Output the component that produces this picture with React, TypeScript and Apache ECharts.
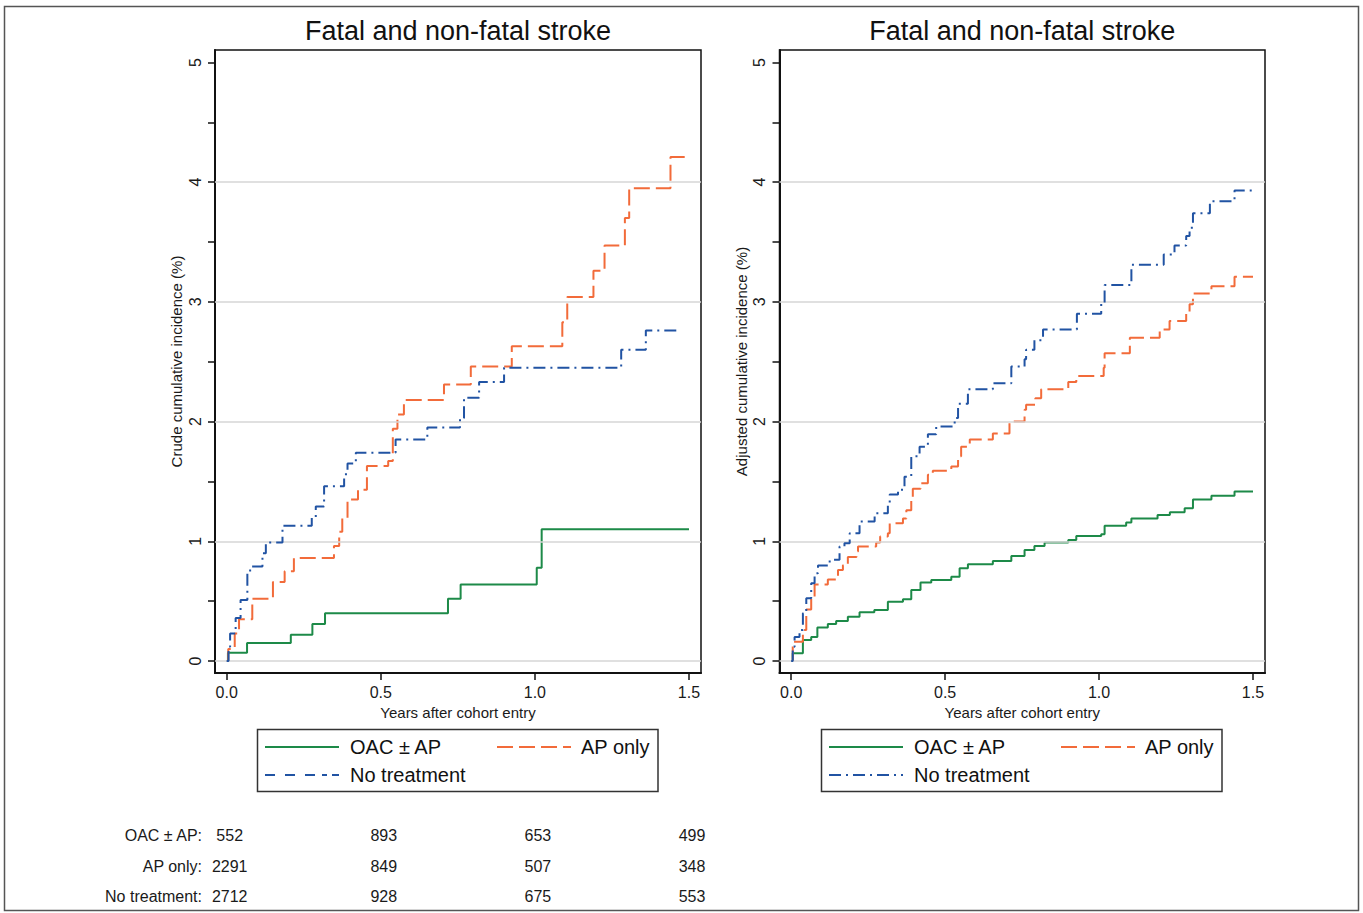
import React, { useEffect, useRef } from "react";
import * as echarts from "echarts";

// ---------- data ----------
const panelTitles = ["Fatal and non-fatal stroke", "Fatal and non-fatal stroke"];
const yAxisNames = ["Crude cumulative incidence (%)", "Adjusted cumulative incidence (%)"];
const xAxisName = "Years after cohort entry";
const seriesNames = ["OAC ± AP", "AP only", "No treatment"];
const xTickValues = [0, 0.5, 1.0, 1.5];
const yTickValues = [0, 0.5, 1, 1.5, 2, 2.5, 3, 3.5, 4, 4.5, 5];
const yLabelValues = [0, 1, 2, 3, 4, 5];
const gridLineValues = [0, 1, 2, 3, 4];

// Crude (left panel)
const oacCrudeT = [0, 0.004, 0.066, 0.208, 0.278, 0.319, 0.718, 0.759, 1.006, 1.022, 1.5];
const oacCrudeV = [0, 0.07, 0.15, 0.22, 0.31, 0.4, 0.52, 0.64, 0.78, 1.1, 1.1];

const apCrudeT = [0, 0.005, 0.026, 0.04, 0.083, 0.15, 0.188, 0.218, 0.348, 0.365, 0.375, 0.392, 0.426, 0.455, 0.524, 0.539, 0.554, 0.575, 0.705, 0.792, 0.925, 1.089, 1.105, 1.19, 1.226, 1.292, 1.306, 1.44, 1.5];
const apCrudeV = [0, 0.1, 0.23, 0.35, 0.52, 0.66, 0.75, 0.86, 0.96, 1.08, 1.19, 1.35, 1.43, 1.63, 1.67, 1.94, 2.06, 2.18, 2.31, 2.46, 2.63, 2.83, 3.04, 3.26, 3.47, 3.7, 3.95, 4.21, 4.21];

const noneCrudeT = [0, 0.006, 0.011, 0.029, 0.045, 0.067, 0.076, 0.116, 0.127, 0.181, 0.276, 0.289, 0.316, 0.381, 0.392, 0.419, 0.548, 0.651, 0.757, 0.77, 0.819, 0.9, 1.28, 1.36, 1.47];
const noneCrudeV = [0, 0.12, 0.23, 0.36, 0.51, 0.73, 0.79, 0.9, 0.99, 1.13, 1.2, 1.29, 1.46, 1.56, 1.65, 1.74, 1.85, 1.95, 2.03, 2.2, 2.33, 2.45, 2.6, 2.76, 2.76];

// Adjusted (right panel)
const oacAdjT = [0, 0.005, 0.038, 0.065, 0.085, 0.119, 0.146, 0.184, 0.222, 0.27, 0.314, 0.363, 0.39, 0.42, 0.455, 0.52, 0.547, 0.574, 0.655, 0.715, 0.758, 0.79, 0.823, 0.9, 0.926, 1.007, 1.018, 1.088, 1.105, 1.19, 1.23, 1.278, 1.305, 1.365, 1.44, 1.5];
const oacAdjV = [0, 0.064, 0.176, 0.2, 0.28, 0.31, 0.334, 0.37, 0.407, 0.426, 0.496, 0.516, 0.594, 0.655, 0.677, 0.705, 0.775, 0.808, 0.836, 0.878, 0.928, 0.96, 0.99, 1.01, 1.045, 1.06, 1.13, 1.157, 1.19, 1.22, 1.243, 1.276, 1.35, 1.38, 1.416, 1.416];

const apAdjT = [0, 0.005, 0.038, 0.049, 0.065, 0.076, 0.119, 0.152, 0.168, 0.184, 0.212, 0.217, 0.276, 0.289, 0.314, 0.32, 0.363, 0.374, 0.39, 0.395, 0.42, 0.444, 0.46, 0.52, 0.542, 0.552, 0.58, 0.655, 0.709, 0.758, 0.763, 0.793, 0.812, 0.9, 0.926, 1.015, 1.018, 1.1, 1.197, 1.229, 1.283, 1.294, 1.305, 1.365, 1.44, 1.5];
const apAdjV = [0, 0.16, 0.26, 0.43, 0.52, 0.64, 0.68, 0.76, 0.8, 0.87, 0.914, 0.956, 0.99, 1.04, 1.067, 1.15, 1.19, 1.26, 1.346, 1.44, 1.486, 1.555, 1.59, 1.625, 1.71, 1.79, 1.85, 1.9, 2.0, 2.1, 2.14, 2.196, 2.27, 2.33, 2.38, 2.45, 2.57, 2.7, 2.77, 2.84, 2.9, 2.98, 3.07, 3.13, 3.21, 3.21];

const noneAdjT = [0, 0.005, 0.011, 0.027, 0.038, 0.049, 0.065, 0.076, 0.087, 0.125, 0.157, 0.173, 0.19, 0.222, 0.271, 0.314, 0.32, 0.347, 0.368, 0.39, 0.417, 0.444, 0.471, 0.531, 0.542, 0.574, 0.655, 0.715, 0.758, 0.763, 0.79, 0.818, 0.928, 1.007, 1.018, 1.105, 1.21, 1.245, 1.283, 1.294, 1.305, 1.36, 1.44, 1.5];
const noneAdjV = [0, 0.12, 0.2, 0.26, 0.4, 0.524, 0.65, 0.733, 0.797, 0.845, 0.956, 0.984, 1.067, 1.165, 1.235, 1.3, 1.39, 1.43, 1.54, 1.71, 1.79, 1.895, 1.96, 2.03, 2.15, 2.27, 2.32, 2.46, 2.52, 2.6, 2.68, 2.77, 2.9, 2.99, 3.14, 3.31, 3.395, 3.47, 3.55, 3.62, 3.74, 3.84, 3.93, 3.93];

// Number at risk
const riskLabels = ["OAC ± AP:", "AP only:", "No treatment:"];
const riskTimes = [0, 0.5, 1.0, 1.5];
const riskOAC = [552, 893, 653, 499];
const riskAP = [2291, 849, 507, 348];
const riskNone = [2712, 928, 675, 553];

// ---------- styles ----------
const FONT = "'Liberation Sans', Arial, Helvetica, sans-serif";
const GREEN = "#1d8a48";
const ORANGE = "#f26b3a";
const BLUE = "#2153a3";
const DASH_AP = [16, 6];
const DASH_NONE = [12, 5, 2, 5];
const LEGEND_DASH_NONE = [
  [10, 10, 10, 10, 10, 7, 5, 5, 7],
  [12, 5, 2, 5],
];
const TEXT = "#1a1a1a";

const zip = (t: number[], v: number[]) => t.map((x, i) => [x, v[i]]);

const boxes = [
  { left: 215, top: 50, width: 486, height: 623 },
  { left: 779.5, top: 50, width: 485.5, height: 623 },
];
const X_MIN = -0.038;
const X_MAX = 1.539;
const Y_MIN = -0.1;
const Y_MAX = 5.104;

export default function App() {
  const ref = useRef<HTMLDivElement>(null);

  useEffect(() => {
    if (!ref.current) return;
    const chart = echarts.init(ref.current, undefined, { renderer: "svg" });

    const xAxes = boxes.map((_, i) => ({
      type: "value",
      gridIndex: i,
      min: X_MIN,
      max: X_MAX,
      name: xAxisName,
      nameLocation: "middle",
      nameGap: 29,
      nameTextStyle: { fontSize: 15, color: TEXT, fontFamily: FONT },
      axisLine: { show: true, onZero: false, lineStyle: { color: "#111", width: 2 } },
      axisTick: { show: true, length: 7, customValues: xTickValues, lineStyle: { color: "#111", width: 1.5 } },
      axisLabel: {
        show: true,
        customValues: xTickValues,
        fontSize: 16,
        color: TEXT,
        fontFamily: FONT,
        margin: 11,
        formatter: (v: number) => v.toFixed(1),
      },
      splitLine: { show: false },
    }));

    const yAxes = boxes.map((_, i) => ({
      type: "value",
      gridIndex: i,
      min: Y_MIN,
      max: Y_MAX,
      name: yAxisNames[i],
      nameLocation: "middle",
      nameGap: 31,
      nameRotate: 90,
      nameTextStyle: { fontSize: 15, color: TEXT, fontFamily: FONT },
      axisLine: { show: true, onZero: false, lineStyle: { color: "#111", width: 2 } },
      axisTick: { show: true, length: 7, customValues: yTickValues, lineStyle: { color: "#111", width: 1.5 } },
      axisLabel: {
        show: true,
        customValues: yLabelValues,
        rotate: 90,
        fontSize: 16,
        color: TEXT,
        fontFamily: FONT,
        margin: 12,
        formatter: (v: number) => String(Math.round(v)),
      },
      splitLine: { show: false },
    }));

    const panelData = [
      [zip(oacCrudeT, oacCrudeV), zip(apCrudeT, apCrudeV), zip(noneCrudeT, noneCrudeV)],
      [zip(oacAdjT, oacAdjV), zip(apAdjT, apAdjV), zip(noneAdjT, noneAdjV)],
    ];
    const colors = [GREEN, ORANGE, BLUE];
    const dashes: any[] = ["solid", DASH_AP, DASH_NONE];

    const series: any[] = [];
    boxes.forEach((_, p) => {
      series.push({
        type: "line",
        name: "grid" + p,
        xAxisIndex: p,
        yAxisIndex: p,
        data: [],
        silent: true,
        z: 1,
        markLine: {
          silent: true,
          symbol: ["none", "none"],
          label: { show: false },
          lineStyle: { color: "#d6d6d6", width: 1.5, type: "solid" },
          data: gridLineValues.map((v) => ({ yAxis: v })),
        },
      });
      panelData[p].forEach((d, k) => {
        series.push({
          type: "line",
          name: seriesNames[k],
          xAxisIndex: p,
          yAxisIndex: p,
          data: d,
          step: "end",
          showSymbol: false,
          symbol: "none",
          z: 3 + k,
          lineStyle: { color: colors[k], width: 2, type: dashes[k] },
          itemStyle: { color: colors[k] },
        });
      });
    });

    chart.setOption({
      animation: false,
      backgroundColor: "#ffffff",
      textStyle: { fontFamily: FONT },
      title: boxes.map((b, i) => ({
        text: panelTitles[i],
        left: b.left + b.width / 2,
        top: 17,
        textAlign: "center",
        padding: 0,
        textStyle: { fontSize: 27, fontWeight: "normal", color: "#111", fontFamily: FONT },
      })),
      grid: boxes.map((b) => ({
        left: b.left,
        top: b.top,
        width: b.width,
        height: b.height,
        show: true,
        borderColor: "#111",
        borderWidth: 1.5,
        backgroundColor: "transparent",
        containLabel: false,
      })),
      xAxis: xAxes,
      yAxis: yAxes,
      series,
    });

    // ---------- graphic: frame, legends, risk table ----------
    const graphics: any[] = [];
    graphics.push({
      type: "rect",
      shape: { x: 4.5, y: 6.5, width: 1354, height: 904 },
      style: { fill: "none", stroke: "#555", lineWidth: 1.5 },
      silent: true,
    });

    const legendOffsets = [0, 564];
    legendOffsets.forEach((dx, p) => {
      graphics.push({
        type: "rect",
        shape: { x: 257.5 + dx, y: 729.5, width: 400.5, height: 62 },
        style: { fill: "#fff", stroke: "#333", lineWidth: 1.5 },
        silent: true,
      });
      const items = [
        { x: 265, y: 747, tx: 350, k: 0 },
        { x: 497, y: 747, tx: 581, k: 1 },
        { x: 265, y: 775, tx: 350, k: 2 },
      ];
      items.forEach((it) => {
        graphics.push({
          type: "line",
          shape: { x1: it.x + dx, y1: it.y, x2: it.x + dx + 74, y2: it.y },
          style: {
            stroke: colors[it.k],
            lineWidth: 2,
            lineDash: it.k === 0 ? null : it.k === 1 ? DASH_AP : LEGEND_DASH_NONE[p],
          },
          silent: true,
        });
        graphics.push({
          type: "text",
          x: it.tx + dx,
          y: it.y,
          style: {
            text: seriesNames[it.k],
            fontSize: 20,
            fill: "#111",
            fontFamily: FONT,
            verticalAlign: "middle",
            align: "left",
          },
          silent: true,
        });
      });
    });

    const riskRows = [riskOAC, riskAP, riskNone];
    const rowY = [835, 866, 896];
    riskRows.forEach((row, r) => {
      graphics.push({
        type: "text",
        x: 202,
        y: rowY[r],
        style: {
          text: riskLabels[r],
          fontSize: 16,
          fill: TEXT,
          fontFamily: FONT,
          align: "right",
          verticalAlign: "middle",
        },
        silent: true,
      });
      row.forEach((n, c) => {
        const px = chart.convertToPixel({ xAxisIndex: 0 }, riskTimes[c]) as number;
        graphics.push({
          type: "text",
          x: px + 3,
          y: rowY[r],
          style: {
            text: String(n),
            fontSize: 16,
            fill: TEXT,
            fontFamily: FONT,
            align: "center",
            verticalAlign: "middle",
          },
          silent: true,
        });
      });
    });

    chart.setOption({ graphic: graphics });

    return () => {
      chart.dispose();
    };
  }, []);

  return (
    <div
      ref={ref}
      style={{ position: "absolute", left: 0, top: 0, width: 1363, height: 913 }}
    />
  );
}
